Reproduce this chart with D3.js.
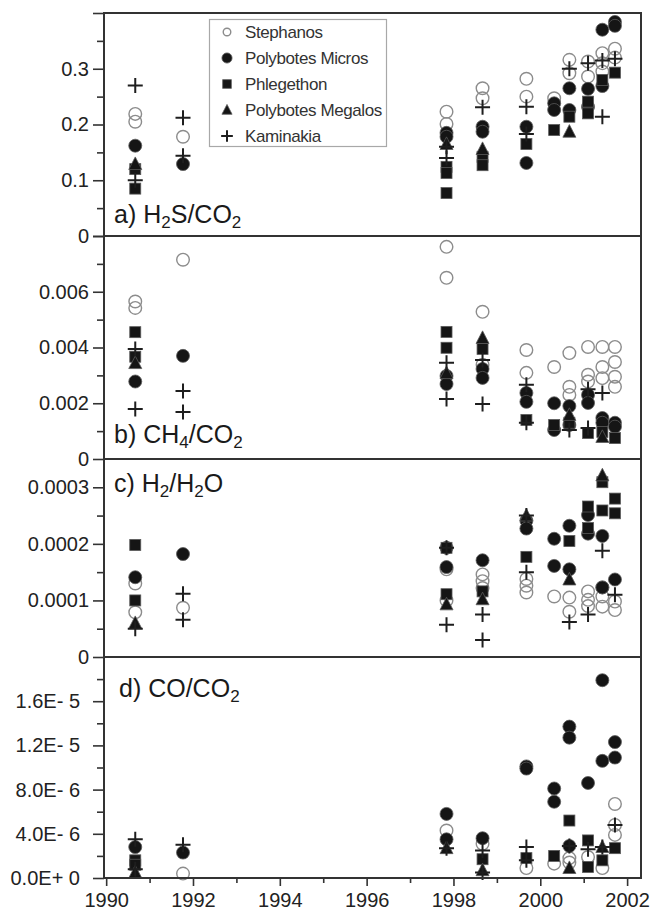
<html>
<script src="https://d3js.org/d3.v7.min.js"></script>
<body style="margin:0;background:#fff">
<svg id="chart" width="652" height="913"></svg>
<script>
// sites, legend order (S M P G K)
const sites = ["Stephanos", "Polybotes Micros", "Phlegethon", "Polybotes Megalos", "Kaminakia"];
const siteCodes = ["S", "M", "P", "G", "K"];

const xTicks = [1990, 1992, 1994, 1996, 1998, 2000, 2002];
const xMinor = [1991, 1993, 1995, 1997, 1999, 2001];

// [site, year, value]
const h2sCo2 = [
  ["S",1990.67,.219],["S",1990.67,.205],["M",1990.67,.162],["G",1990.67,.129],["P",1990.67,.12],["P",1990.67,.085],["K",1990.67,.27],["K",1990.67,.10],
  ["K",1991.77,.212],["S",1991.77,.178],["K",1991.77,.144],["M",1991.77,.129],
  ["S",1997.84,.223],["S",1997.84,.201],["M",1997.84,.185],["M",1997.84,.178],["G",1997.84,.165],["K",1997.84,.16],["K",1997.84,.14],["P",1997.84,.124],["P",1997.84,.113],["P",1997.84,.077],
  ["S",1998.67,.265],["S",1998.67,.247],["K",1998.67,.231],["M",1998.67,.196],["M",1998.67,.187],["G",1998.67,.156],["P",1998.67,.142],["P",1998.67,.127],
  ["S",1999.68,.282],["S",1999.68,.25],["K",1999.68,.232],["M",1999.68,.196],["K",1999.68,.183],["P",1999.68,.165],["M",1999.68,.131],
  ["S",2000.32,.247],["M",2000.32,.238],["M",2000.32,.226],["P",2000.32,.19],
  ["S",2000.67,.316],["K",2000.67,.30],["S",2000.67,.292],["M",2000.67,.265],["M",2000.67,.226],["P",2000.67,.214],["G",2000.67,.187],
  ["S",2001.1,.313],["K",2001.1,.31],["S",2001.1,.286],["M",2001.1,.264],["P",2001.1,.241],["M",2001.1,.232],["P",2001.1,.22],
  ["S",2001.43,.328],["S",2001.43,.31],["S",2001.43,.295],["K",2001.43,.315],["P",2001.43,.28],["M",2001.43,.269],["M",2001.43,.37],["K",2001.43,.214],
  ["M",2001.72,.384],["M",2001.72,.377],["S",2001.72,.336],["S",2001.72,.32],["K",2001.72,.318],["P",2001.72,.293]
];

const ch4Co2 = [
  ["S",1990.67,.00565],["S",1990.67,.00542],["P",1990.67,.00455],["K",1990.67,.00395],["P",1990.67,.00367],["G",1990.67,.00344],["M",1990.67,.00278],["K",1990.67,.00179],
  ["S",1991.77,.00715],["M",1991.77,.0037],["K",1991.77,.00244],["K",1991.77,.00169],
  ["S",1997.84,.00761],["S",1997.84,.0065],["P",1997.84,.00456],["P",1997.84,.00399],["K",1997.84,.00345],["G",1997.84,.00308],["M",1997.84,.00298],["M",1997.84,.00269],["K",1997.84,.00215],
  ["S",1998.67,.00528],["G",1998.67,.00434],["P",1998.67,.00395],["K",1998.67,.00355],["S",1998.67,.00338],["M",1998.67,.00323],["M",1998.67,.00291],["K",1998.67,.00197],
  ["S",1999.68,.00391],["S",1999.68,.00309],["K",1999.68,.00266],["M",1999.68,.00237],["M",1999.68,.00205],["P",1999.68,.0014],["K",1999.68,.0013],
  ["S",2000.32,.0033],["M",2000.32,.002],["P",2000.32,.00122],["M",2000.32,.00104],
  ["S",2000.67,.0038],["S",2000.67,.00259],["S",2000.67,.0023],["M",2000.67,.0019],["G",2000.67,.00158],["P",2000.67,.0013],["M",2000.67,.00122],["K",2000.67,.00104],
  ["S",2001.1,.00402],["S",2001.1,.00302],["S",2001.1,.00278],["K",2001.1,.0025],["M",2001.1,.0023],["M",2001.1,.00201],["K",2001.1,.00111],["P",2001.1,.00093],
  ["S",2001.43,.00402],["S",2001.43,.0033],["S",2001.43,.0029],["K",2001.43,.00237],["M",2001.43,.00147],["M",2001.43,.0013],["P",2001.43,.00097],["G",2001.43,.00079],
  ["S",2001.72,.00402],["S",2001.72,.00348],["S",2001.72,.00295],["S",2001.72,.00259],["M",2001.72,.0013],["M",2001.72,.00116],["P",2001.72,.00075]
];

const h2H2o = [
  ["P",1990.67,.000198],["M",1990.67,.000141],["S",1990.67,.00013],["P",1990.67,.0001],["S",1990.67,.000079],["G",1990.67,.00006],["K",1990.67,.00005],
  ["M",1991.77,.000182],["K",1991.77,.000112],["S",1991.77,.000087],["K",1991.77,.000066],
  ["M",1997.84,.000193],["P",1997.84,.000193],["K",1997.84,.000193],["M",1997.84,.000159],["S",1997.84,.000155],["P",1997.84,.000111],["S",1997.84,.0001],["G",1997.84,.000093],["K",1997.84,.000057],
  ["M",1998.67,.000171],["S",1998.67,.000146],["S",1998.67,.000134],["S",1998.67,.000122],["P",1998.67,.000116],["G",1998.67,.000102],["K",1998.67,.000075],["K",1998.67,.00003],
  ["G",1999.68,.00025],["K",1999.68,.00025],["M",1999.68,.000241],["M",1999.68,.000227],["P",1999.68,.000177],["K",1999.68,.00015],["S",1999.68,.000138],["S",1999.68,.000126],["S",1999.68,.000114],
  ["M",2000.32,.000209],["M",2000.32,.000161],["S",2000.32,.000107],
  ["M",2000.67,.000232],["P",2000.67,.000205],["M",2000.67,.000155],["G",2000.67,.000137],["S",2000.67,.000105],["S",2000.67,.00008],["K",2000.67,.000062],
  ["P",2001.1,.000266],["M",2001.1,.000251],["P",2001.1,.000228],["M",2001.1,.000218],["S",2001.1,.000116],["S",2001.1,.000101],["S",2001.1,.00009],["K",2001.1,.000075],
  ["G",2001.43,.000321],["P",2001.43,.000309],["P",2001.43,.000259],["M",2001.43,.000214],["K",2001.43,.000188],["M",2001.43,.000123],["S",2001.43,.000123],["S",2001.43,.000107],["S",2001.43,.000089],
  ["P",2001.72,.00028],["P",2001.72,.000254],["M",2001.72,.000137],["K",2001.72,.00011],["S",2001.72,.000098],["S",2001.72,.000083]
];

const coCo2 = [
  ["K",1990.67,3.5e-6],["M",1990.67,2.8e-6],["P",1990.67,1.6e-6],["P",1990.67,1.2e-6],["K",1990.67,0.8e-6],["G",1990.67,0.5e-6],
  ["K",1991.77,3.0e-6],["M",1991.77,2.3e-6],["S",1991.77,0.4e-6],
  ["M",1997.84,5.8e-6],["S",1997.84,4.3e-6],["M",1997.84,3.5e-6],["G",1997.84,2.7e-6],["K",1997.84,2.7e-6],
  ["M",1998.67,3.6e-6],["S",1998.67,3.1e-6],["K",1998.67,2.5e-6],["P",1998.67,1.7e-6],["G",1998.67,0.7e-6],["K",1998.67,0.5e-6],
  ["M",1999.68,10.1e-6],["M",1999.68,9.9e-6],["K",1999.68,2.8e-6],["P",1999.68,1.8e-6],["K",1999.68,1.6e-6],["S",1999.68,0.9e-6],
  ["M",2000.32,8.1e-6],["M",2000.32,6.9e-6],["P",2000.32,2.0e-6],["S",2000.32,1.3e-6],
  ["M",2000.67,13.7e-6],["M",2000.67,12.7e-6],["P",2000.67,5.2e-6],["M",2000.67,2.9e-6],["K",2000.67,2.9e-6],["S",2000.67,1.8e-6],["S",2000.67,1.4e-6],["G",2000.67,0.9e-6],
  ["M",2001.1,8.6e-6],["P",2001.1,3.4e-6],["K",2001.1,2.6e-6],["S",2001.1,1.9e-6],["P",2001.1,1.0e-6],
  ["M",2001.43,17.9e-6],["M",2001.43,10.6e-6],["G",2001.43,2.8e-6],["K",2001.43,2.8e-6],["P",2001.43,1.6e-6],["S",2001.43,0.9e-6],
  ["M",2001.72,12.3e-6],["M",2001.72,10.9e-6],["S",2001.72,6.7e-6],["S",2001.72,4.8e-6],["K",2001.72,4.8e-6],["S",2001.72,3.9e-6],["P",2001.72,2.7e-6]
];

// tick values + labels per panel
const h2sTicks = [0, 0.1, 0.2, 0.3, 0.4];
const h2sLabels = ["0", "0.1", "0.2", "0.3", ""];
const ch4Ticks = [0, 0.002, 0.004, 0.006, 0.008];
const ch4Labels = ["0", "0.002", "0.004", "0.006", ""];
const h2Ticks = [0, 0.0001, 0.0002, 0.0003];
const h2Labels = ["0", "0.0001", "0.0002", "0.0003"];
const coTicks = [0, 4e-6, 8e-6, 1.2e-5, 1.6e-5];
const coLabels = ["0.0E+ 0", "4.0E- 6", "8.0E- 6", "1.2E- 5", "1.6E- 5"];

const svg = d3.select("#chart");
const plotLeft = 104, plotRight = 641, plotTop = 13, plotBottom = 878;
const font = "'Liberation Sans', Arial, sans-serif";

const x = d3.scaleLinear().domain([1989.95, 2002.32]).range([plotLeft, plotRight]);

const panels = [
  {data: h2sCo2, max: 0.4, y0: 236, y1: 13, ticks: h2sTicks, labels: h2sLabels, minor: 0.05, pad: 4,
   label: [["a) H"], ["2", true], ["S/CO"], ["2", true]], lx: 114, ly: 228},
  {data: ch4Co2, max: 0.008, y0: 459, y1: 236, ticks: ch4Ticks, labels: ch4Labels, minor: 0.001, pad: 4,
   label: [["b) CH"], ["4", true], ["/CO"], ["2", true]], lx: 114, ly: 448},
  {data: h2H2o, max: 0.00035, y0: 657, y1: 459, ticks: h2Ticks, labels: h2Labels, minor: 0.00005, pad: 4,
   label: [["c) H"], ["2", true], ["/H"], ["2", true], ["O"]], lx: 114, ly: 497},
  {data: coCo2, max: 2e-5, y0: 878, y1: 657, ticks: coTicks, labels: coLabels, minor: 2e-6, pad: 13,
   label: [["d) CO/CO"], ["2", true]], lx: 119, ly: 702}
];

const ink = "#151515";
function drawMark(g, code, cx, cy, k) {
  k = k || 1;
  if (code === "S") {
    g.append("circle").attr("cx", cx).attr("cy", cy).attr("r", 6.3 * k)
      .attr("fill", "none").attr("stroke", "#8c8c8c").attr("stroke-width", 1.4);
  } else if (code === "M") {
    g.append("circle").attr("cx", cx).attr("cy", cy).attr("r", 6.5 * k)
      .attr("fill", ink).attr("stroke", "#5a5a5a").attr("stroke-width", 0.8);
  } else if (code === "P") {
    const s = 11 * k;
    g.append("rect").attr("x", cx - s / 2).attr("y", cy - s / 2).attr("width", s).attr("height", s)
      .attr("fill", ink).attr("stroke", "#5a5a5a").attr("stroke-width", 0.8);
  } else if (code === "G") {
    const s = 13 * k;
    g.append("path")
      .attr("d", `M${cx},${cy - s * 0.55}L${cx + s / 2},${cy + s * 0.42}L${cx - s / 2},${cy + s * 0.42}Z`)
      .attr("fill", ink).attr("stroke", "#5a5a5a").attr("stroke-width", 0.8);
  } else {
    const h = 7.5 * k;
    g.append("path")
      .attr("d", `M${cx - h},${cy}H${cx + h}M${cx},${cy - h}V${cy + h}`)
      .attr("stroke", "#1e1e1e").attr("stroke-width", 2).attr("fill", "none");
  }
}

panels.forEach(p => {
  const y = d3.scaleLinear().domain([0, p.max]).range([p.y0, p.y1]);

  // minor ticks
  const minorVals = d3.range(p.minor, p.max - 1e-12, p.minor * 2);
  svg.append("g").attr("transform", `translate(${plotLeft},0)`)
    .call(d3.axisLeft(y).tickValues(minorVals).tickSize(7).tickFormat(""))
    .call(g => g.select(".domain").remove())
    .selectAll("line").attr("stroke", "#333").attr("stroke-width", 1.6);

  const ax = svg.append("g").attr("transform", `translate(${plotLeft},0)`)
    .call(d3.axisLeft(y).tickValues(p.ticks).tickSize(11).tickPadding(p.pad)
      .tickFormat((d, i) => p.labels[i]))
    .call(g => g.select(".domain").remove());
  ax.selectAll("line").attr("stroke", "#333").attr("stroke-width", 1.6);
  ax.selectAll("text").attr("font-family", font).attr("font-size", 20).attr("fill", "#222");

  // points, legend order so Kaminakia crosses sit on top
  const pg = svg.append("g");
  siteCodes.forEach(code => {
    p.data.filter(d => d[0] === code).forEach(d => drawMark(pg, code, x(d[1]), y(d[2])));
  });

  // panel label with subscripts
  const t = svg.append("text").attr("x", p.lx).attr("y", p.ly)
    .attr("font-family", font).attr("font-size", 25).attr("fill", "#1a1a1a");
  p.label.forEach(([s, sub]) => {
    if (sub) t.append("tspan").text(s).attr("font-size", 17).attr("dy", 5);
    else t.append("tspan").text(s).attr("dy", t.selectAll("tspan").size() ? -5 : 0);
  });
});

// x axis
svg.append("g").attr("transform", `translate(0,${plotBottom})`)
  .call(d3.axisBottom(x).tickValues(xMinor).tickSize(5).tickFormat(""))
  .call(g => g.select(".domain").remove())
  .selectAll("line").attr("stroke", "#333").attr("stroke-width", 1.6);
const xa = svg.append("g").attr("transform", `translate(0,${plotBottom})`)
  .call(d3.axisBottom(x).tickValues(xTicks).tickSize(8).tickPadding(7).tickFormat(d3.format("d")))
  .call(g => g.select(".domain").remove());
xa.selectAll("line").attr("stroke", "#333").attr("stroke-width", 1.6);
xa.selectAll("text").attr("font-family", font).attr("font-size", 20).attr("fill", "#222");

// frame + panel separators
svg.append("rect").attr("x", plotLeft).attr("y", plotTop).attr("width", plotRight - plotLeft).attr("height", plotBottom - plotTop)
  .attr("fill", "none").attr("stroke", "#333").attr("stroke-width", 2);
panels.slice(0, 3).forEach(p => {
  svg.append("line").attr("x1", plotLeft).attr("x2", plotRight).attr("y1", p.y0).attr("y2", p.y0)
    .attr("stroke", "#333").attr("stroke-width", 2);
});

// legend
const lg = svg.append("g");
lg.append("rect").attr("x", 209.5).attr("y", 19.5).attr("width", 177).attr("height", 127)
  .attr("fill", "#fff").attr("stroke", "#a8a8a8").attr("stroke-width", 1.2);
sites.forEach((name, i) => {
  const cy = 32 + i * 26;
  drawMark(lg, siteCodes[i], 227, cy, siteCodes[i] === "S" ? 0.6 : 0.78);
  lg.append("text").attr("x", 245).attr("y", cy + 6).text(name)
    .attr("font-family", font).attr("font-size", 17).attr("letter-spacing", -0.4).attr("fill", "#333");
});
</script>
</body>
</html>
